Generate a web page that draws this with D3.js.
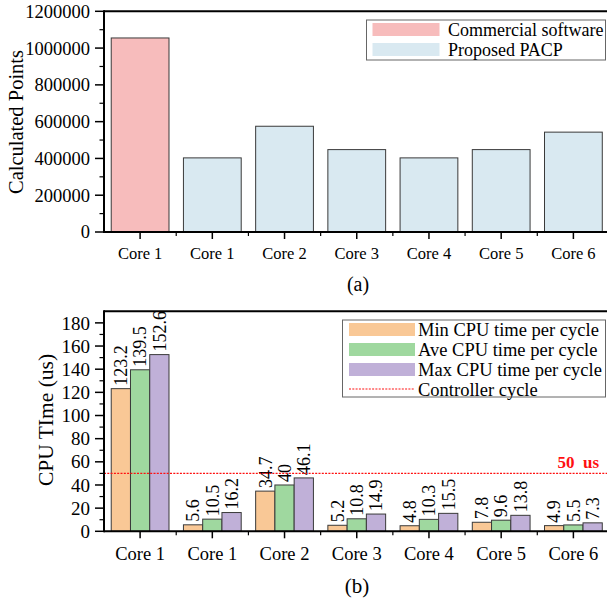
<!DOCTYPE html>
<html><head><meta charset="utf-8">
<script src="https://cdn.jsdelivr.net/npm/d3@7/dist/d3.min.js"></script>
<style>body{margin:0;background:#fff}svg{display:block;font-family:"Liberation Serif","Times New Roman",serif}</style>
</head><body><svg id="c" width="607" height="603"></svg>
<script>
const categories = ["Core 1","Core 1","Core 2","Core 3","Core 4","Core 5","Core 6"];
const calcPoints = [1055000,403000,575000,448000,403000,448000,543000];
const calcGroup = ["Commercial software","Proposed PACP","Proposed PACP","Proposed PACP","Proposed PACP","Proposed PACP","Proposed PACP"];
const calcLegend = ["Commercial software","Proposed PACP"];
const calcTicks = [0,200000,400000,600000,800000,1000000,1200000];
const minCpu = [123.2,5.6,34.7,5.2,4.8,7.8,4.9];
const aveCpu = [139.5,10.5,40,10.8,10.3,9.6,5.5];
const maxCpu = [152.6,16.2,46.1,14.9,15.5,13.8,7.3];
const cpuSeries = ["Min CPU time per cycle","Ave CPU time per cycle","Max CPU time per cycle"];
const cpuTicks = [0,20,40,60,80,100,120,140,160,180];
const controllerCycle = 50;

const svg = d3.select("#c");
const L = 104, R = 609.5;
const gray = "#3a3a3a";
const red = "#ff1010";

const x = d3.scaleBand().domain(d3.range(categories.length)).range([L,R]).paddingInner(0.2).paddingOuter(0.1);

function frame(y, top, bottom, ticks, minorStep, tickFont, catFont) {
  const g = svg.append("g");
  g.append("line").attr("x1",L).attr("x2",607).attr("y1",bottom).attr("y2",bottom).attr("stroke","#000").attr("stroke-width",2);
  g.append("line").attr("x1",L).attr("x2",607).attr("y1",top).attr("y2",top).attr("stroke","#000").attr("stroke-width",2);
  g.append("line").attr("x1",L).attr("x2",L).attr("y1",top-1).attr("y2",bottom+1).attr("stroke","#000").attr("stroke-width",2);
  ticks.forEach(t=>{
    g.append("line").attr("x1",L-9).attr("x2",L).attr("y1",y(t)).attr("y2",y(t)).attr("stroke","#000").attr("stroke-width",1.5);
    g.append("text").attr("x",L-14).attr("y",y(t)).attr("dy","0.35em").attr("text-anchor","end").attr("font-size",tickFont).text(t);
  });
  const dmax = y.domain()[1];
  for (let v = minorStep; v < dmax; v += minorStep*2) {
    g.append("line").attr("x1",L-4.5).attr("x2",L).attr("y1",y(v)).attr("y2",y(v)).attr("stroke","#000").attr("stroke-width",1.2);
  }
  categories.forEach((c,i)=>{
    const cx = x(i)+x.bandwidth()/2;
    g.append("line").attr("x1",cx).attr("x2",cx).attr("y1",bottom).attr("y2",bottom+7).attr("stroke","#000").attr("stroke-width",1.5);
    g.append("text").attr("x",cx).attr("y",bottom+catFont+10).attr("text-anchor","middle").attr("font-size",catFont).text(c);
    if (i>0) {
      const bx = x(i) - x.step()*x.paddingInner()/2;
      g.append("line").attr("x1",bx).attr("x2",bx).attr("y1",bottom).attr("y2",bottom+4).attr("stroke","#000").attr("stroke-width",1.2);
    }
  });
  return g;
}

// ---------- Panel (a)
const ya = d3.scaleLinear().domain([0,1200000]).range([232,11.3]);
const colA = d3.scaleOrdinal().domain(calcLegend).range(["#f7bcbc","#d9e9f1"]);
const ga = svg.append("g");
ga.selectAll("rect").data(calcPoints).join("rect")
  .attr("x",(d,i)=>x(i)).attr("width",x.bandwidth())
  .attr("y",d=>ya(d)).attr("height",d=>ya(0)-ya(d))
  .attr("fill",(d,i)=>colA(calcGroup[i])).attr("stroke",gray).attr("stroke-width",1);
frame(ya,11.3,232,calcTicks,100000,18.5,16.5);
svg.append("text").attr("transform","translate(23,122) rotate(-90)").attr("text-anchor","middle").attr("font-size",20.5).text("Calculated Points");
svg.append("text").attr("x",358).attr("y",291).attr("text-anchor","middle").attr("font-size",20).text("(a)");
const la = svg.append("g");
la.append("rect").attr("x",366.5).attr("y",20).attr("width",239).attr("height",40).attr("fill","#fff").attr("stroke","#666").attr("stroke-width",1);
calcLegend.forEach((s,i)=>{
  la.append("rect").attr("x",372.5).attr("y",23+i*20).attr("width",67).attr("height",13).attr("fill",colA(s));
  la.append("text").attr("x",448).attr("y",35.5+i*20).attr("font-size",18).text(s);
});

// ---------- Panel (b)
const yb = d3.scaleLinear().domain([0,190]).range([531.3,311.3]);
const colB = d3.scaleOrdinal().domain(cpuSeries).range(["#f9c896","#9fd89f","#c0b0d8"]);
const xi = d3.scaleBand().domain(cpuSeries).range([0,x.bandwidth()]);
const series = [minCpu,aveCpu,maxCpu];
const gb = svg.append("g");
series.forEach((arr,si)=>{
  const gs = gb.append("g");
  gs.selectAll("rect").data(arr).join("rect")
    .attr("x",(d,i)=>x(i)+xi(cpuSeries[si])).attr("width",xi.bandwidth())
    .attr("y",d=>yb(d)).attr("height",d=>yb(0)-yb(d))
    .attr("fill",colB(cpuSeries[si])).attr("stroke",gray).attr("stroke-width",1);
  gs.selectAll("text").data(arr).join("text")
    .attr("transform",(d,i)=>`translate(${x(i)+xi(cpuSeries[si])+xi.bandwidth()/2},${yb(d)-3}) rotate(-90)`)
    .attr("dy","0.35em").attr("font-size",18).text(d=>d);
});
svg.append("line").attr("x1",L).attr("x2",607).attr("y1",yb(controllerCycle)).attr("y2",yb(controllerCycle))
  .attr("stroke",red).attr("stroke-width",1.2).attr("stroke-dasharray","2,1.3");
svg.append("text").attr("x",599).attr("y",468.3).attr("text-anchor","end").attr("font-size",17).attr("font-weight","bold").attr("fill",red).attr("xml:space","preserve").text(controllerCycle+"  us");
frame(yb,311.3,531.3,cpuTicks,10,19,18.5);
svg.append("text").attr("transform","translate(53,420) rotate(-90)").attr("text-anchor","middle").attr("font-size",21.5).text("CPU TIme (us)");
svg.append("text").attr("x",357).attr("y",593).attr("text-anchor","middle").attr("font-size",21).text("(b)");
const lb = svg.append("g");
lb.append("rect").attr("x",342.5).attr("y",320).attr("width",263).attr("height",77).attr("fill","#fff").attr("stroke","#666").attr("stroke-width",1);
cpuSeries.forEach((s,i)=>{
  lb.append("rect").attr("x",349).attr("y",323+i*20).attr("width",66).attr("height",13).attr("fill",colB(s));
  lb.append("text").attr("x",418).attr("y",335.5+i*20).attr("font-size",18.5).text(s);
});
lb.append("line").attr("x1",349).attr("x2",415).attr("y1",389).attr("y2",389).attr("stroke",red).attr("stroke-width",1.2).attr("stroke-dasharray","2,1.3");
lb.append("text").attr("x",418).attr("y",395.5).attr("font-size",18.5).text("Controller cycle");
</script></body></html>
